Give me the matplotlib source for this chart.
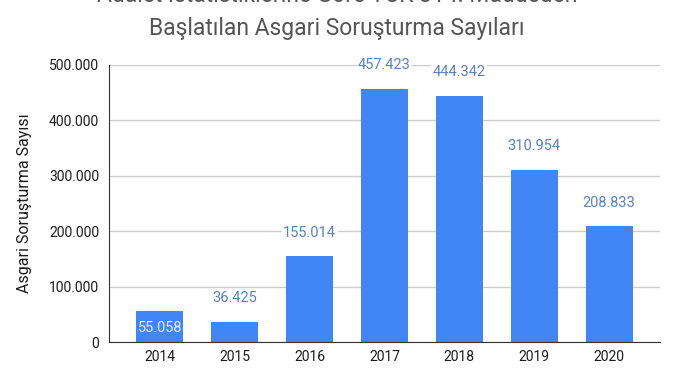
import matplotlib
matplotlib.use("Agg")
import matplotlib.pyplot as plt

years = ["2014", "2015", "2016", "2017", "2018", "2019", "2020"]
values = [55058, 36425, 155014, 457423, 444342, 310954, 208833]
labels = ["55.058", "36.425", "155.014", "457.423", "444.342", "310.954", "208.833"]
yticks = [0, 100000, 200000, 300000, 400000, 500000]
ytick_labels = ["0", "100.000", "200.000", "300.000", "400.000", "500.000"]

plt.rcParams['font.family'] = ['Roboto', 'DejaVu Sans']

fig = plt.figure(figsize=(7, 3.75), dpi=100)
W, H = 700, 375
ax = fig.add_axes([109 / W, 1 - 342 / H, (660 - 109) / W, (342 - 65) / H])

x = list(range(len(years)))
bars = ax.bar(x, values, width=0.63, color="#4285F4", zorder=3)

ax.set_xlim(-0.68, 6.68)
ax.set_ylim(0, 500000)
ax.set_yticks(yticks)
ax.set_yticklabels(ytick_labels)
ax.set_xticks(x)
ax.set_xticklabels(years)
ax.tick_params(axis='both', length=0, labelsize=10, colors="#1a1a1a")
ax.tick_params(axis='y', pad=7)
ax.tick_params(axis='x', pad=6)
ax.grid(axis='y', color="#cccccc", linewidth=1, zorder=0)
for s in ["top", "right"]:
    ax.spines[s].set_visible(False)
ax.spines["left"].set_color("#333333")
ax.spines["bottom"].set_color("#333333")
ax.spines["left"].set_zorder(4)
ax.spines["bottom"].set_zorder(4)

ax.set_ylabel("Asgari Soruşturma Sayısı", fontsize=11.5, color="#1a1a1a", labelpad=12)

for i, (v, lab) in enumerate(zip(values, labels)):
    if i == 0:
        ax.annotate(lab, (i, v), xytext=(0, -12), textcoords="offset points",
                    ha="center", va="center", fontsize=10.5, color="#e8efff", zorder=5)
    else:
        ax.annotate(lab, (i, v), xytext=(0, 17), textcoords="offset points",
                    ha="center", va="center", fontsize=10.5, color="#5b80c4", zorder=5,
                    bbox=dict(boxstyle="square,pad=0.1", fc="white", ec="none"))

fig.text(337 / W, 1 - 2 / H, "Adalet İstatistiklerine Göre TCK 314. Maddeden",
         ha="center", va="baseline", fontsize=16.5, color="#555555")
fig.text(337 / W, 1 - 35 / H, "Başlatılan Asgari Soruşturma Sayıları",
         ha="center", va="baseline", fontsize=16.5, color="#555555")

fig.savefig("out.png", dpi=100)
